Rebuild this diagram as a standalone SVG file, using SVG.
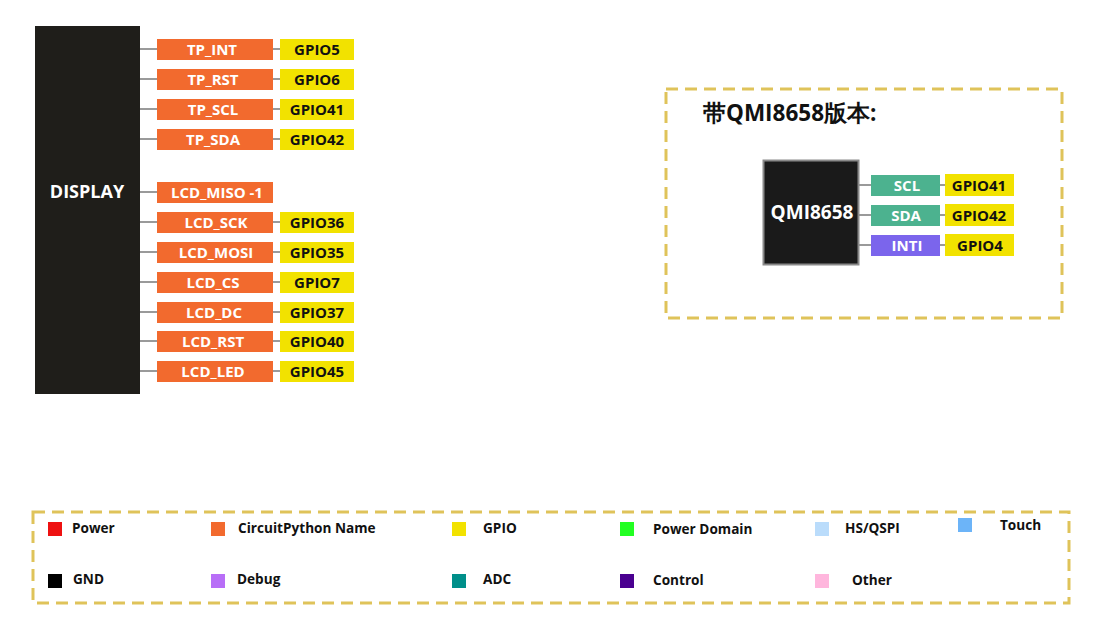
<svg xmlns="http://www.w3.org/2000/svg" width="1114" height="632" viewBox="0 0 1114 632">
<style>
text{font-family:"Open Sans","Liberation Sans",sans-serif;font-weight:bold}
.n{fill:#f26a2e}
.g{fill:#f2e200}
.nt{fill:#fff;font-size:15px;text-anchor:middle}
.gt{fill:#111;font-size:15px;text-anchor:middle}
.ln{stroke:#9a9a9a;stroke-width:2;fill:none}
.dash{fill:none;stroke:#dfc35a;stroke-width:3;stroke-dasharray:12 7}
.lg{fill:#111;font-size:13.6px}
</style>
<rect width="1114" height="632" fill="#fff"/>
<g id="connectors">
<path class="ln" d="M140 49H157M273 49H280M140 79H157M273 79H280M140 109H157M273 109H280M140 139H157M273 139H280M140 192H157M140 222H157M273 222H280M140 252H157M273 252H280M140 282H157M273 282H280M140 312H157M273 312H280M140 341H157M273 341H280M140 371H157M273 371H280"/>
<path class="ln" d="M858 185H871M940 185H945M858 215H871M940 215H945M858 245H871M940 245H945"/>
</g>
<g id="display">
<rect x="35" y="26" width="105" height="368" fill="#1f1e1a"/>
<text x="87" y="198" fill="#fff" font-size="18" text-anchor="middle">DISPLAY</text>
</g>
<g id="tp_int"><rect class="n" x="157" y="39" width="116" height="21"/><text class="nt" x="212" y="55">TP_INT</text></g>
<g id="gpio5"><rect class="g" x="280" y="39" width="74" height="21"/><text class="gt" x="317" y="55">GPIO5</text></g>
<g id="tp_rst"><rect class="n" x="157" y="69" width="116" height="21"/><text class="nt" x="213" y="85">TP_RST</text></g>
<g id="gpio6"><rect class="g" x="280" y="69" width="74" height="21"/><text class="gt" x="317" y="85">GPIO6</text></g>
<g id="tp_scl"><rect class="n" x="157" y="99" width="116" height="21"/><text class="nt" x="213" y="115">TP_SCL</text></g>
<g id="gpio41"><rect class="g" x="280" y="99" width="74" height="21"/><text class="gt" x="317" y="115">GPIO41</text></g>
<g id="tp_sda"><rect class="n" x="157" y="129" width="116" height="21"/><text class="nt" x="213" y="145">TP_SDA</text></g>
<g id="gpio42"><rect class="g" x="280" y="129" width="74" height="21"/><text class="gt" x="317" y="145">GPIO42</text></g>
<g id="lcd_miso"><rect class="n" x="157" y="182" width="116" height="21"/><text class="nt" x="217" y="198">LCD_MISO -1</text></g>
<g id="lcd_sck"><rect class="n" x="157" y="212" width="116" height="21"/><text class="nt" x="216" y="228">LCD_SCK</text></g>
<g id="gpio36"><rect class="g" x="280" y="212" width="74" height="21"/><text class="gt" x="317" y="228">GPIO36</text></g>
<g id="lcd_mosi"><rect class="n" x="157" y="242" width="116" height="21"/><text class="nt" x="216" y="258">LCD_MOSI</text></g>
<g id="gpio35"><rect class="g" x="280" y="242" width="74" height="21"/><text class="gt" x="317" y="258">GPIO35</text></g>
<g id="lcd_cs"><rect class="n" x="157" y="272" width="116" height="21"/><text class="nt" x="213" y="288">LCD_CS</text></g>
<g id="gpio7"><rect class="g" x="280" y="272" width="74" height="21"/><text class="gt" x="317" y="288">GPIO7</text></g>
<g id="lcd_dc"><rect class="n" x="157" y="302" width="116" height="21"/><text class="nt" x="214" y="318">LCD_DC</text></g>
<g id="gpio37"><rect class="g" x="280" y="302" width="74" height="21"/><text class="gt" x="317" y="318">GPIO37</text></g>
<g id="lcd_rst"><rect class="n" x="157" y="331" width="116" height="21"/><text class="nt" x="213" y="347">LCD_RST</text></g>
<g id="gpio40"><rect class="g" x="280" y="331" width="74" height="21"/><text class="gt" x="317" y="347">GPIO40</text></g>
<g id="lcd_led"><rect class="n" x="157" y="361" width="116" height="21"/><text class="nt" x="213" y="377">LCD_LED</text></g>
<g id="gpio45"><rect class="g" x="280" y="361" width="74" height="21"/><text class="gt" x="317" y="377">GPIO45</text></g>

<g id="qmi_frame">
<rect class="dash" x="666" y="89" width="396" height="229"/>
<text x="703" y="121" fill="#111" font-size="22.5" font-family="'Noto Sans CJK SC',sans-serif">带QMI8658版本:</text>
</g>
<g id="qmi8658">
<rect x="763.5" y="160.5" width="95" height="104" fill="#1a1a1a" stroke="#8a8a8a" stroke-width="2"/>
<text x="812" y="219" fill="#fff" font-size="19" text-anchor="middle">QMI8658</text>
</g>
<g id="scl"><rect x="871" y="175" width="69" height="21" fill="#4cb28f"/><text class="nt" x="907" y="191">SCL</text></g>
<g id="q_gpio41"><rect class="g" x="945" y="174" width="69" height="22"/><text class="gt" x="979" y="191">GPIO41</text></g>
<g id="sda"><rect x="871" y="205" width="69" height="21" fill="#4cb28f"/><text class="nt" x="906" y="221">SDA</text></g>
<g id="q_gpio42"><rect class="g" x="945" y="204" width="69" height="22"/><text class="gt" x="979" y="221">GPIO42</text></g>
<g id="inti"><rect x="871" y="235" width="69" height="21" fill="#7b65ec"/><text class="nt" x="907" y="251">INTI</text></g>
<g id="q_gpio4"><rect class="g" x="945" y="234" width="69" height="22"/><text class="gt" x="980" y="251">GPIO4</text></g>

<g id="legend">
<rect class="dash" x="33" y="512" width="1036" height="91"/>
<rect x="48" y="522" width="14" height="14" fill="#ee1111"/><text class="lg" x="72" y="533">Power</text>
<rect x="211" y="522" width="14" height="14" fill="#f26a2e"/><text class="lg" x="238" y="533">CircuitPython Name</text>
<rect x="452" y="522" width="14" height="14" fill="#f2e200"/><text class="lg" x="483" y="533">GPIO</text>
<rect x="620" y="522" width="14" height="14" fill="#22ff22"/><text class="lg" x="653" y="534">Power Domain</text>
<rect x="815" y="522" width="14" height="14" fill="#badcfb"/><text class="lg" x="845" y="533">HS/QSPI</text>
<rect x="958" y="518" width="14" height="14" fill="#6cb4f8"/><text class="lg" x="1000" y="530">Touch</text>
<rect x="48" y="574" width="14" height="14" fill="#000"/><text class="lg" x="73" y="584">GND</text>
<rect x="211" y="574" width="14" height="14" fill="#b86ef7"/><text class="lg" x="237" y="584">Debug</text>
<rect x="452" y="574" width="14" height="14" fill="#008f8a"/><text class="lg" x="483" y="584">ADC</text>
<rect x="620" y="574" width="14" height="14" fill="#4a0090"/><text class="lg" x="653" y="585">Control</text>
<rect x="815" y="574" width="14" height="14" fill="#ffb6dd"/><text class="lg" x="852" y="585">Other</text>
</g>
</svg>
